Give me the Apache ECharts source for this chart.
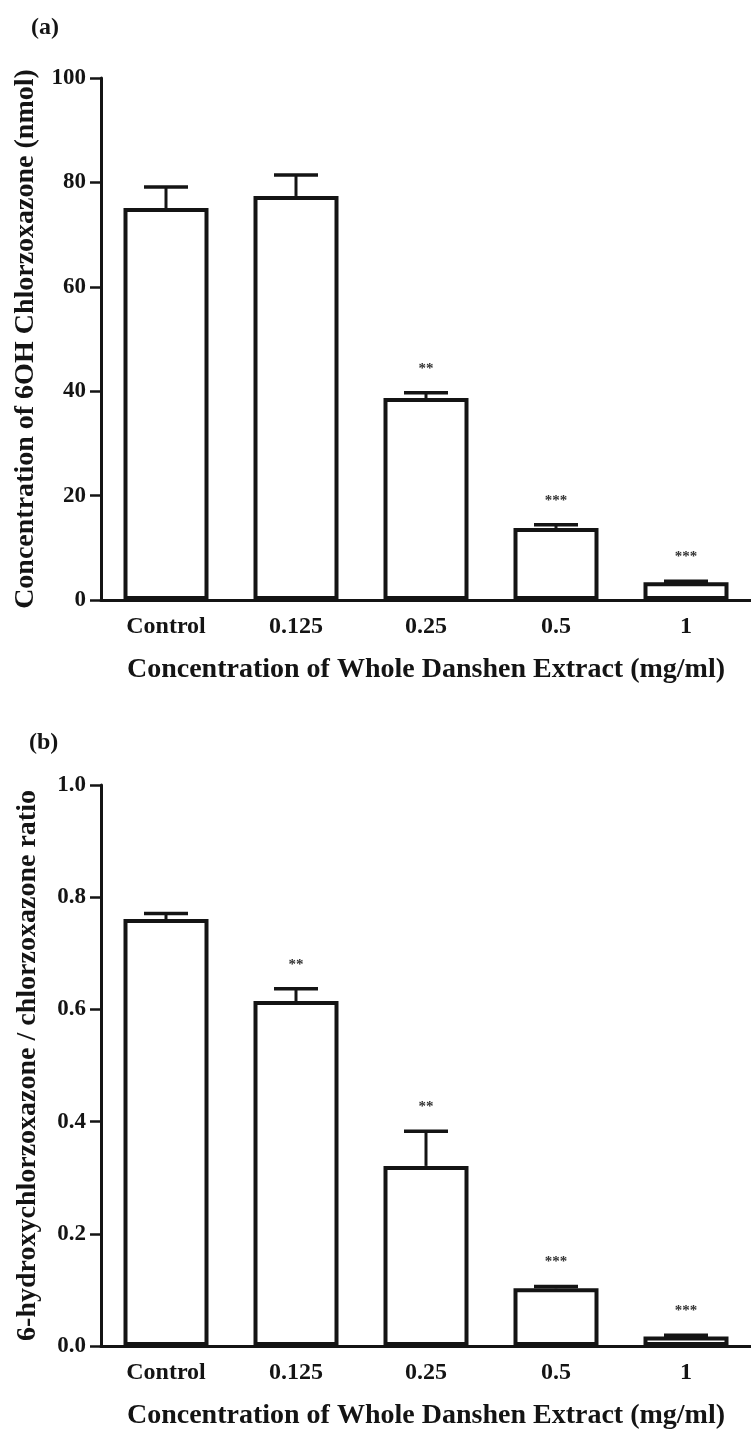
<!DOCTYPE html>
<html>
<head>
<meta charset="utf-8">
<script src="https://cdn.jsdelivr.net/npm/echarts@6/dist/echarts.min.js"></script>
<style>
  html, body { margin: 0; padding: 0; background: #fff; }
  #chart { width: 751px; height: 1432px; }
</style>
</head>
<body>
<div id="chart"></div>
<script>
// Whole Danshen extract concentrations (mg/ml)
const categories = ['Control', '0.125', '0.25', '0.5', '1'];

// (a) 6OH chlorzoxazone formed (nmol): mean and upper error
const meanA = [75.1, 77.4, 38.7, 13.8, 3.4];
const errA = [4.0, 4.0, 1.0, 0.6, 0.2];
const starsA = ['', '', '**', '***', '***'];
const ticksA = { min: 0, max: 100, interval: 20 };

// (b) 6-hydroxychlorzoxazone / chlorzoxazone ratio: mean and upper error
const meanB = [0.761, 0.615, 0.321, 0.103, 0.017];
const errB = [0.010, 0.022, 0.062, 0.003, 0.002];
const starsB = ['', '**', '**', '***', '***'];
const ticksB = { min: 0, max: 1, interval: 0.2 };

const xTitle = 'Concentration of Whole Danshen Extract (mg/ml)';
const yTitleA = 'Concentration of 6OH Chlorzoxazone (nmol)';
const yTitleB = '6-hydroxychlorzoxazone / chlorzoxazone ratio';

const FONT = '"Liberation Serif", "DejaVu Serif", serif';
const INK = '#141414';

function xAxisFor(gridIndex) {
  return {
    type: 'category',
    gridIndex,
    data: categories,
    boundaryGap: true,
    axisLine: { lineStyle: { color: INK, width: 3 } },
    axisTick: { alignWithLabel: true, length: 10, lineStyle: { color: INK, width: 2.5 } },
    axisLabel: { color: INK, fontFamily: FONT, fontWeight: 'bold', fontSize: 24, margin: 15 },
    name: xTitle,
    nameLocation: 'middle',
    nameGap: 56,
    nameTextStyle: { color: INK, fontFamily: FONT, fontWeight: 'bold', fontSize: 28 },
    splitLine: { show: false }
  };
}

function yAxisFor(gridIndex, ticks, title, fmt, gap) {
  return {
    type: 'value',
    gridIndex,
    min: ticks.min,
    max: ticks.max,
    interval: ticks.interval,
    axisLine: { show: true, lineStyle: { color: INK, width: 3 } },
    axisTick: { show: true, length: 11, lineStyle: { color: INK, width: 2.5 } },
    axisLabel: { color: INK, fontFamily: FONT, fontWeight: 'bold', fontSize: 23, margin: 15, formatter: fmt },
    splitLine: { show: false },
    name: title,
    nameLocation: 'middle',
    nameGap: gap,
    nameRotate: 90,
    nameTextStyle: { color: INK, fontFamily: FONT, fontWeight: 'bold', fontSize: 28 }
  };
}

function barSeries(idx, values) {
  return {
    type: 'bar',
    xAxisIndex: idx,
    yAxisIndex: idx,
    data: values,
    barWidth: 85,
    itemStyle: { color: '#ffffff', borderColor: INK, borderWidth: 4 },
    silent: true,
    z: 2
  };
}

// upper error whisker with cap, plus significance stars above it
function errorSeries(idx, means, errs, stars) {
  return {
    type: 'custom',
    xAxisIndex: idx,
    yAxisIndex: idx,
    data: means.map((m, i) => [i, m, m + errs[i], stars[i]]),
    silent: true,
    z: 3,
    renderItem: function (params, api) {
      const base = api.coord([api.value(0), api.value(1)]);
      const top = api.coord([api.value(0), api.value(2)]);
      const half = 22;
      const children = [
        { type: 'line', shape: { x1: base[0], y1: base[1], x2: top[0], y2: top[1] },
          style: { stroke: INK, lineWidth: 3 } },
        { type: 'line', shape: { x1: top[0] - half, y1: top[1], x2: top[0] + half, y2: top[1] },
          style: { stroke: INK, lineWidth: 3.5 } }
      ];
      const s = stars[params.dataIndex];
      if (s) {
        children.push({
          type: 'text',
          style: { text: s, x: top[0], y: top[1] - 24, align: 'center', verticalAlign: 'middle',
            fill: '#333', font: 'bold 15px ' + FONT }
        });
      }
      return { type: 'group', children };
    }
  };
}

const chart = echarts.init(document.getElementById('chart'), null, { renderer: 'canvas' });
chart.setOption({
  backgroundColor: '#ffffff',
  animation: false,
  title: [
    { text: '(a)', left: 26, top: 11, textStyle: { color: INK, fontFamily: FONT, fontWeight: 'bold', fontSize: 24 } },
    { text: '(b)', left: 24, top: 726, textStyle: { color: INK, fontFamily: FONT, fontWeight: 'bold', fontSize: 24 } }
  ],
  grid: [
    { left: 101, top: 78, width: 650, height: 522 },
    { left: 101, top: 785, width: 650, height: 561 }
  ],
  xAxis: [xAxisFor(0), xAxisFor(1)],
  yAxis: [
    yAxisFor(0, ticksA, yTitleA, v => String(v), 61),
    yAxisFor(1, ticksB, yTitleB, v => v.toFixed(1), 59)
  ],
  series: [
    barSeries(0, meanA),
    errorSeries(0, meanA, errA, starsA),
    barSeries(1, meanB),
    errorSeries(1, meanB, errB, starsB)
  ]
});
</script>
</body>
</html>
